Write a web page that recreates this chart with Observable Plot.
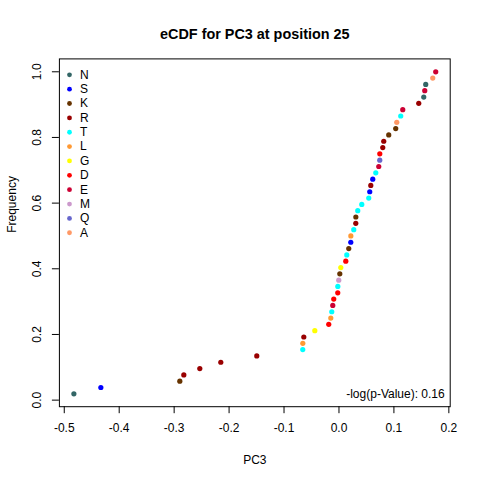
<!DOCTYPE html>
<html>
<head>
<meta charset="utf-8">
<script src="https://cdn.jsdelivr.net/npm/d3@7"></script>
<script src="https://cdn.jsdelivr.net/npm/@observablehq/plot@0.6"></script>
<style>
  html, body { margin: 0; padding: 0; background: #fff; }
  #chart { width: 480px; height: 480px; }
</style>
</head>
<body>
<div id="chart"></div>
<script>
// Residue at each point, in ascending order of PC3
const residues = ["N","S","K","R","R","R","R","T","L","R","G","D","L","T","E","D","D","T","M","K","G","D","T","K","S","L","T","R","K","T","T","T","S","R","S","T","E","Q","D","R","R","K","K","A","T","E","R","N","E","N","A","E"];
// PC3 values (sorted)
const pc3 = [-0.4825,-0.4334,-0.2897,-0.2824,-0.2533,-0.2151,-0.1496,-0.0659,-0.0658,-0.0640,-0.0440,-0.0186,-0.0149,-0.0131,-0.0113,-0.0095,-0.0022,-0.0021,-0.0004,0.0015,0.0033,0.0124,0.0142,0.0178,0.0215,0.0216,0.0269,0.0306,0.0307,0.0342,0.0415,0.0542,0.0560,0.0579,0.0615,0.0670,0.0724,0.0742,0.0743,0.0797,0.0815,0.0906,0.1033,0.1052,0.1124,0.1161,0.1452,0.1543,0.1561,0.1579,0.1707,0.1761];
// Legend
const legendResidues = ["N","S","K","R","T","L","G","D","E","M","Q","A"];
const legendColors = ["#336666","#0000FF","#663300","#990000","#00FFFF","#FF9933","#FFFF00","#FF0000","#CC0033","#CC99CC","#6666CC","#FF9966"];
// Ticks
const xTicks = [-0.5,-0.4,-0.3,-0.2,-0.1,0.0,0.1,0.2];
const yTicks = [0.0,0.2,0.4,0.6,0.8,1.0];
const titleText = "eCDF for PC3 at position 25";
const xLabel = "PC3";
const yLabel = "Frequency";
const pText = "-log(p-Value): 0.16";

const n = pc3.length;
const data = pc3.map((v, i) => ({pc3: v, freq: (i + 1) / n, residue: residues[i]}));

// R-style 4% padding of the data range
function pad(ext) { const d = (ext[1] - ext[0]) * 0.04; return [ext[0] - d, ext[1] + d]; }
const xDomain = pad(d3.extent(data, d => d.pc3));
const yDomain = pad(d3.extent(data, d => d.freq));

const legendMarks = legendResidues.flatMap((r, i) => [
  Plot.dot([r], {frameAnchor: "top-left", dx: 10.1, dy: 15.9 + i * 14.36, r: 2.4, fill: d => d, stroke: "none"}),
  Plot.text([r], {frameAnchor: "top-left", dx: 20.5, dy: 15.9 + i * 14.36, text: d => d, textAnchor: "start", lineAnchor: "middle", fontSize: 12, fill: "black"})
]);

const chart = Plot.plot({
  width: 480,
  height: 480,
  marginLeft: 58.9,
  marginRight: 30.3,
  marginTop: 58.4,
  marginBottom: 73.8,
  style: {fontFamily: "'Liberation Sans', Arial, sans-serif", fontSize: "12px", color: "black", background: "white"},
  x: {domain: xDomain},
  y: {domain: yDomain},
  color: {domain: legendResidues, range: legendColors},
  marks: [
    Plot.frame({stroke: "black"}),
    Plot.axisX({ticks: xTicks, tickSize: 7, tickPadding: 10, tickFormat: d => d.toFixed(1), stroke: "black", fill: "black", fontSize: 12, label: null}),
    Plot.axisY({ticks: yTicks, tickSize: 7, tickFormat: () => "", stroke: "black", label: null}),
    Plot.text(yTicks, {y: d => d, text: d => d.toFixed(1), frameAnchor: "left", dx: -22.6, rotate: -90, textAnchor: "middle", lineAnchor: "middle", fontSize: 12, fill: "black"}),
    Plot.dot(data, {x: "pc3", y: "freq", fill: "residue", r: 2.6, stroke: "none"}),
    Plot.text([pText], {frameAnchor: "bottom-right", dx: -5.5, dy: -12.9, text: d => d, textAnchor: "end", lineAnchor: "middle", fontSize: 12, fill: "black"}),
    Plot.text([titleText], {frameAnchor: "top", dy: -24.4, text: d => d, fontWeight: "bold", fontSize: 14.4, lineAnchor: "middle", fill: "black"}),
    Plot.text([xLabel], {frameAnchor: "bottom", dy: 53.8, text: d => d, fontSize: 12, lineAnchor: "middle", fill: "black"}),
    Plot.text([yLabel], {frameAnchor: "left", dx: -47, text: d => d, rotate: -90, fontSize: 12, lineAnchor: "middle", fill: "black"}),
    ...legendMarks
  ]
});
document.getElementById("chart").appendChild(chart);
</script>
</body>
</html>
